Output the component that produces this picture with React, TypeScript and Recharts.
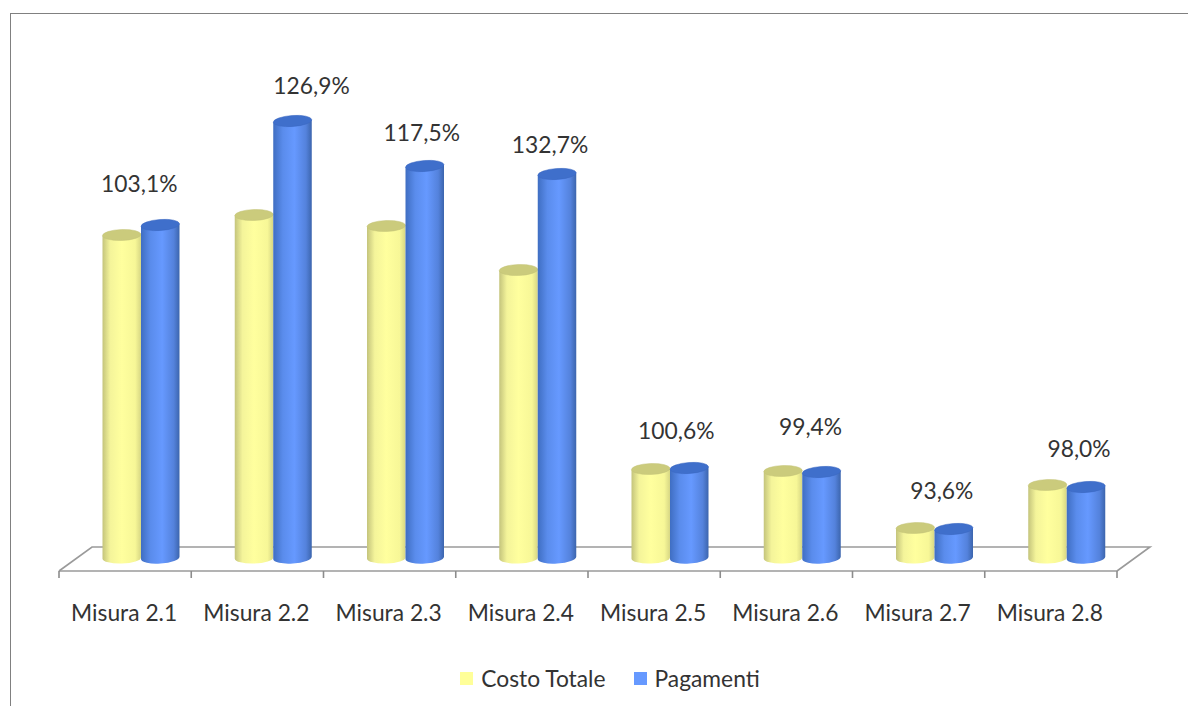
import React from "react"
import { BarChart, Bar, XAxis, YAxis, Legend, LabelList, Customized } from "recharts"

const categories = ["Misura 2.1", "Misura 2.2", "Misura 2.3", "Misura 2.4", "Misura 2.5", "Misura 2.6", "Misura 2.7", "Misura 2.8"]
const costoTotale = [323, 343, 332, 288, 89, 87, 30, 73]
const pagamenti = [333, 437, 392, 384, 90, 86, 29, 71]
const percentuali = ["103,1%", "126,9%", "117,5%", "132,7%", "100,6%", "99,4%", "93,6%", "98,0%"]

// le etichette sono spostate a mano nell'originale
const labelDx = [-21, 19, -3, -7, -13, -11, -12, -7]
const labelDy = [-41, -35, -33, -29, -37, -45, -38, -38]

const chartData = categories.map((name, i) => ({
  name,
  costo: costoTotale[i],
  pagamenti: pagamenti[i],
  label: percentuali[i],
}))

const FONT = "Lato, sans-serif"
const TEXT_SIZE = 22.8
const TEXT_COLOR = "#333333"
const LEFT = 59
const RIGHT = 1117
const AXIS_Y = 571
const DEPTH_X = 33
const DEPTH_Y = 24
const SHIFT = 15.5 // i cilindri stanno a metà del pavimento 3D
const STEP = (RIGHT - LEFT) / categories.length

function Cylinder(props: any) {
  const { x, y, width, height, gradient, top, edge, tilt } = props
  const rx = width / 2
  const ry = 5.5
  const left = x + SHIFT
  const t = rx * Math.sin((tilt * Math.PI) / 180)
  const d = `M${left},${y + t} L${left},${y + height + t} A${rx},${ry} ${-tilt} 0 0 ${left + width},${y + height - t} L${left + width},${y - t} Z`
  return (
    <g>
      <path d={d} fill={`url(#${gradient})`} />
      <ellipse
        cx={left + rx}
        cy={y}
        rx={rx}
        ry={ry}
        fill={top}
        stroke={edge}
        strokeWidth={0.5}
        transform={`rotate(${-tilt} ${left + rx} ${y})`}
      />
    </g>
  )
}

function Floor() {
  return (
    <path
      d={`M${LEFT},${AXIS_Y} L${LEFT + DEPTH_X},${AXIS_Y - DEPTH_Y} L${RIGHT + DEPTH_X},${AXIS_Y - DEPTH_Y} L${RIGHT},${AXIS_Y}`}
      fill="none"
      stroke="#9a9a9a"
      strokeWidth={1.6}
    />
  )
}

function Tick(props: any) {
  const { x, y, payload, index } = props
  const isLast = index === categories.length - 1
  return (
    <g>
      <line x1={x - STEP / 2} x2={x - STEP / 2} y1={AXIS_Y} y2={AXIS_Y + 7} stroke="#8c8c8c" strokeWidth={1.6} />
      {isLast && <line x1={x + STEP / 2} x2={x + STEP / 2} y1={AXIS_Y} y2={AXIS_Y + 7} stroke="#8c8c8c" strokeWidth={1.6} />}
      <text x={x - 1} y={y + 33} textAnchor="middle" dominantBaseline="central" fontFamily={FONT} fontSize={TEXT_SIZE} fill={TEXT_COLOR}>
        {payload.value}
      </text>
    </g>
  )
}

function PercentLabel(props: any) {
  const { x, y, width, value, index } = props
  return (
    <text
      x={x + width / 2 + SHIFT + labelDx[index]}
      y={y + labelDy[index] - 1}
      textAnchor="middle"
      dominantBaseline="central"
      fontFamily={FONT}
      fontSize={TEXT_SIZE}
      fill={TEXT_COLOR}
    >
      {value}
    </text>
  )
}

function LegendBox() {
  const items = [
    { label: "Costo Totale", color: "#ffff99", mr: 28 },
    { label: "Pagamenti", color: "#6699ff", mr: 0 },
  ]
  return (
    <div style={{ display: "flex", justifyContent: "center", alignItems: "center", height: 30, fontFamily: FONT, fontSize: TEXT_SIZE, color: TEXT_COLOR }}>
      {items.map((it) => (
        <span key={it.label} style={{ display: "flex", alignItems: "center", marginRight: it.mr }}>
          <span style={{ width: 13, height: 13, background: it.color, marginRight: 8 }} />
          {it.label}
        </span>
      ))}
    </div>
  )
}

export default function App() {
  return (
    <div style={{ position: "absolute", left: 0, top: 0, width: 1188, height: 706, background: "#fff", overflow: "hidden" }}>
      <div style={{ position: "absolute", left: 10, top: 13, right: 0, bottom: 0, borderTop: "1.5px solid #808080", borderLeft: "1.5px solid #808080" }} />
      <BarChart
        width={1188}
        height={706}
        data={chartData}
        barSize={38.5}
        barGap={0}
        margin={{ top: 71, right: 1188 - RIGHT, left: LEFT, bottom: 0 }}
        style={{ position: "absolute", left: 0, top: 0 }}
      >
        <defs>
          <linearGradient id="cilYellow" x1="0" y1="0" x2="1" y2="0">
            <stop offset="0" stopColor="#c4c47c" />
            <stop offset="0.2" stopColor="#f4f49a" />
            <stop offset="0.5" stopColor="#ffff9e" />
            <stop offset="0.85" stopColor="#f7f797" />
            <stop offset="1" stopColor="#d6d684" />
          </linearGradient>
          <linearGradient id="cilBlue" x1="0" y1="0" x2="1" y2="0">
            <stop offset="0" stopColor="#3f6ec2" />
            <stop offset="0.25" stopColor="#5a8cec" />
            <stop offset="0.55" stopColor="#6699ff" />
            <stop offset="0.85" stopColor="#5482dc" />
            <stop offset="1" stopColor="#3c65ad" />
          </linearGradient>
        </defs>
        <Customized component={<Floor />} />
        <XAxis
          dataKey="name"
          height={105}
          interval={0}
          axisLine={{ stroke: "#9a9a9a", strokeWidth: 1.6 }}
          tickLine={false}
          tick={<Tick />}
        />
        <YAxis hide domain={[-13, 487]} />
        <Bar
          dataKey="costo"
          name="Costo Totale"
          isAnimationActive={false}
          shape={<Cylinder gradient="cilYellow" top="#cbcb7c" edge="#c4c478" tilt={2} />}
        />
        <Bar
          dataKey="pagamenti"
          name="Pagamenti"
          isAnimationActive={false}
          shape={<Cylinder gradient="cilBlue" top="#3f6fcb" edge="#3a68c0" tilt={4} />}
        >
          <LabelList dataKey="label" content={<PercentLabel />} />
        </Bar>
        <Legend
          verticalAlign="bottom"
          height={30}
          content={<LegendBox />}
          wrapperStyle={{ left: 16, width: 1188, top: 663, bottom: "auto" }}
        />
      </BarChart>
    </div>
  )
}
